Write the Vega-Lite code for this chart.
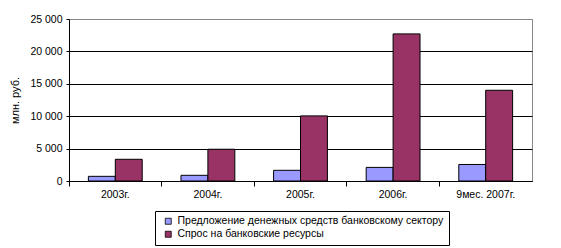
{
  "$schema": "https://vega.github.io/schema/vega-lite/v6.json",
  "autosize": {"type": "none"},
  "width": 463,
  "height": 162,
  "padding": {"left": 69, "top": 19, "right": 29, "bottom": 67},
  "background": "white",
  "config": {
    "font": "Liberation Sans",
    "locale": {"number": {"decimal": ",", "thousands": " ", "grouping": [3], "currency": ["", ""]}},
    "view": {"stroke": "#888888", "strokeWidth": 1},
    "axis": {"labelFont": "Liberation Sans", "labelFontSize": 10.5, "labelColor": "black", "titleFont": "Liberation Sans", "titleColor": "black", "domainColor": "black", "tickColor": "black"}
  },
  "data": {"values": [
    {"year": "2003г.", "series": "Предложение денежных средств банковскому сектору", "value": 720},
    {"year": "2003г.", "series": "Спрос на банковские ресурсы", "value": 3350},
    {"year": "2004г.", "series": "Предложение денежных средств банковскому сектору", "value": 880},
    {"year": "2004г.", "series": "Спрос на банковские ресурсы", "value": 4900},
    {"year": "2005г.", "series": "Предложение денежных средств банковскому сектору", "value": 1650},
    {"year": "2005г.", "series": "Спрос на банковские ресурсы", "value": 10050},
    {"year": "2006г.", "series": "Предложение денежных средств банковскому сектору", "value": 2100},
    {"year": "2006г.", "series": "Спрос на банковские ресурсы", "value": 22700},
    {"year": "9мес. 2007г.", "series": "Предложение денежных средств банковскому сектору", "value": 2550},
    {"year": "9мес. 2007г.", "series": "Спрос на банковские ресурсы", "value": 14000}
  ]},
  "mark": {"type": "bar", "stroke": "black", "strokeWidth": 1},
  "encoding": {
    "x": {
      "field": "year", "type": "nominal", "sort": null,
      "scale": {"paddingInner": 0, "paddingOuter": 0},
      "axis": {"title": null, "labelAngle": 0, "bandPosition": 0, "tickSize": 5, "labelPadding": 3, "grid": false, "domainColor": "black"}
    },
    "xOffset": {
      "field": "series", "type": "nominal",
      "scale": {"domain": ["Предложение денежных средств банковскому сектору", "Спрос на банковские ресурсы"], "paddingInner": 0, "paddingOuter": 0.72}
    },
    "y": {
      "field": "value", "type": "quantitative",
      "scale": {"domain": [0, 25000], "nice": false},
      "axis": {
        "title": "млн. руб.", "titleFontSize": 11, "titleFontWeight": "normal", "titlePadding": 9,
        "values": [0, 5000, 10000, 15000, 20000, 25000], "format": ",d",
        "tickSize": 3, "labelPadding": 4, "grid": true,
        "gridColor": {"condition": {"test": "datum.value == 25000", "value": "#888888"}, "value": "black"},
        "gridOpacity": 1
      }
    },
    "color": {
      "field": "series", "type": "nominal",
      "scale": {"domain": ["Предложение денежных средств банковскому сектору", "Спрос на банковские ресурсы"], "range": ["#9999FF", "#993366"]},
      "legend": {
        "title": null, "orient": "none", "legendX": 86, "legendY": 192,
        "direction": "vertical", "symbolType": "square", "symbolSize": 36,
        "symbolStrokeColor": "black", "symbolStrokeWidth": 0.8,
        "labelFontSize": 10.5, "labelFont": "Liberation Sans", "labelColor": "black", "labelLimit": 400,
        "strokeColor": "black", "padding": 5, "rowPadding": 2, "symbolOffset": 3,
        "labelOffset": 4, "offset": 0
      }
    }
  }
}
